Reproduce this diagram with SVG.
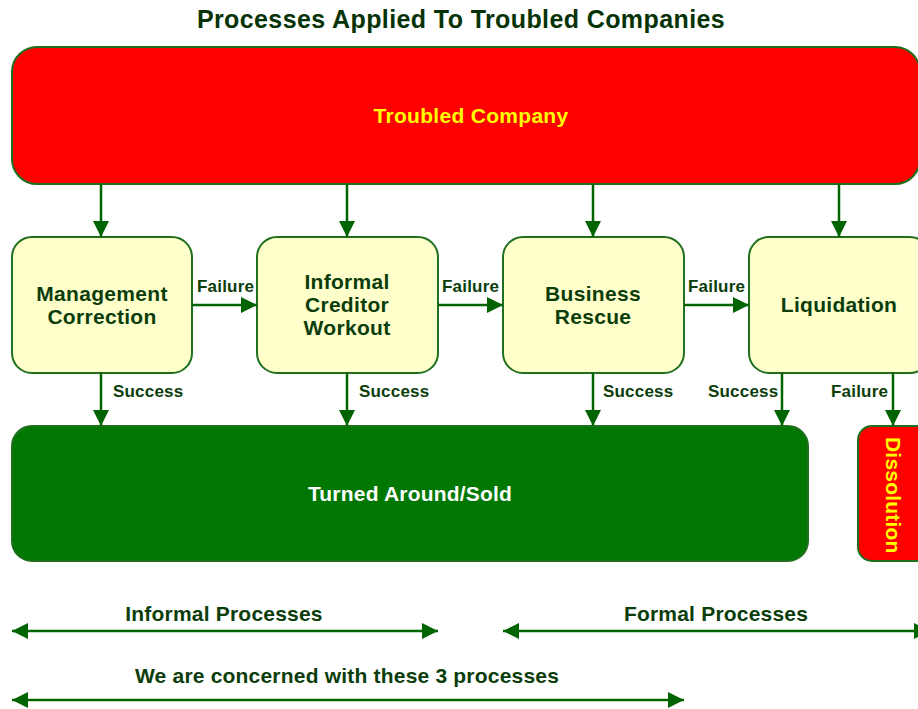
<svg xmlns="http://www.w3.org/2000/svg" width="918" height="709" viewBox="0 0 918 709">
<defs>
<marker id="ah" viewBox="0 0 16 16" refX="16" refY="8" markerWidth="16" markerHeight="16" markerUnits="userSpaceOnUse" orient="auto-start-reverse"><path d="M0,0 L16,8 L0,16 Z" fill="#006400"/></marker>
<style>
.t{font-family:"Liberation Sans",Arial,sans-serif;font-weight:bold}
.node rect{fill:#FFFFCC;stroke:#1F6F1F;stroke-width:2}
.nt{fill:#0B3D0B;font-size:21px;text-anchor:middle;letter-spacing:0.3px}
.lbl{fill:#0B3D0B;font-size:17px;letter-spacing:0.2px}
.bl{fill:#0B3D0B;font-size:21px;text-anchor:middle;letter-spacing:0.2px}
.c line{stroke:#006400;stroke-width:2.5;marker-end:url(#ah)}
.c line.both{marker-start:url(#ah)}
</style>
</defs>
<rect width="918" height="709" fill="#FFFFFF"/>
<text class="t" x="461" y="28" font-size="25" fill="#063306" text-anchor="middle" letter-spacing="0.4">Processes Applied To Troubled Companies</text>

<g id="troubled">
<rect x="12" y="47" width="908" height="137" rx="25" fill="#FF0000" stroke="#1F6F1F" stroke-width="2"/>
<text class="t" x="471" y="123" font-size="21" fill="#FFFF00" text-anchor="middle" letter-spacing="0.3">Troubled Company</text>
</g>

<g id="mgmt" class="node"><rect x="12" y="237" width="180" height="136" rx="20"/>
<text class="t nt" x="102" y="301">Management</text><text class="t nt" x="102" y="324">Correction</text></g>
<g id="informal" class="node"><rect x="257" y="237" width="181" height="136" rx="20"/>
<text class="t nt" x="347" y="289">Informal</text><text class="t nt" x="347" y="312">Creditor</text><text class="t nt" x="347" y="335">Workout</text></g>
<g id="rescue" class="node"><rect x="503" y="237" width="181" height="136" rx="20"/>
<text class="t nt" x="593" y="301">Business</text><text class="t nt" x="593" y="324">Rescue</text></g>
<g id="liquidation" class="node"><rect x="749" y="237" width="181" height="136" rx="20"/>
<text class="t nt" x="839" y="312">Liquidation</text></g>

<g id="turned">
<rect x="12" y="426" width="796" height="135" rx="20" fill="#007700" stroke="#1F6F1F" stroke-width="2"/>
<text class="t" x="410" y="501" font-size="21" fill="#FFFFFF" text-anchor="middle" letter-spacing="0.2">Turned Around/Sold</text>
</g>
<g id="dissolution">
<rect x="858" y="426" width="80" height="135" rx="14" fill="#FF0000" stroke="#1F6F1F" stroke-width="2"/>
<text class="t" transform="translate(886,437) rotate(90)" font-size="21" fill="#FFFF00" letter-spacing="0.2">Dissolution</text>
</g>

<g id="connectors" class="c">
<line x1="101" y1="184" x2="101" y2="237"/>
<line x1="347" y1="184" x2="347" y2="237"/>
<line x1="593" y1="184" x2="593" y2="237"/>
<line x1="839" y1="184" x2="839" y2="237"/>
<line x1="192" y1="305" x2="257" y2="305"/>
<line x1="438" y1="305" x2="503" y2="305"/>
<line x1="684" y1="305" x2="749" y2="305"/>
<line x1="101" y1="373" x2="101" y2="426"/>
<line x1="347" y1="373" x2="347" y2="426"/>
<line x1="593" y1="373" x2="593" y2="426"/>
<line x1="782" y1="373" x2="782" y2="426"/>
<line x1="893" y1="373" x2="893" y2="426"/>
<line class="both" x1="12" y1="631" x2="438" y2="631"/>
<line class="both" x1="503" y1="631" x2="930" y2="631"/>
<line class="both" x1="12" y1="700" x2="684" y2="700"/>
</g>

<g id="labels">
<text class="t lbl" x="197" y="292">Failure</text>
<text class="t lbl" x="442" y="292">Failure</text>
<text class="t lbl" x="688" y="292">Failure</text>
<text class="t lbl" x="113" y="397">Success</text>
<text class="t lbl" x="359" y="397">Success</text>
<text class="t lbl" x="603" y="397">Success</text>
<text class="t lbl" x="708" y="397">Success</text>
<text class="t lbl" x="831" y="397">Failure</text>
<text class="t bl" x="224" y="621">Informal Processes</text>
<text class="t bl" x="716" y="621">Formal Processes</text>
<text class="t bl" x="347" y="683">We are concerned with these 3 processes</text>
</g>
</svg>
